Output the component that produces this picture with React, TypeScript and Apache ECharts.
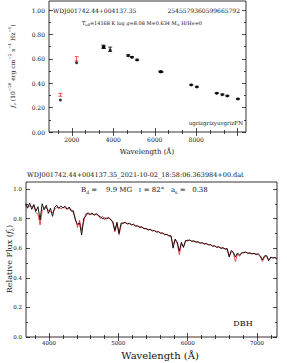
import React, { useEffect, useRef } from "react";
import * as echarts from "echarts";

// ---------- SED panel data ----------
const sedWave = [1450, 2230, 3520, 3545, 3850, 4720, 4900, 5150, 6270, 6320, 7760, 8030, 8990, 9260, 9500, 10010];
const sedObsFlux = [0.305, 0.6, 0.7, 0.695, 0.678, 0.628, 0.614, 0.592, 0.496, 0.492, 0.387, 0.371, 0.319, 0.308, 0.297, 0.272];
const sedObsErr = [0.012, 0.018, 0.012, 0.01, 0.018, 0.006, 0.005, 0.005, 0.004, 0.004, 0.004, 0.004, 0.004, 0.004, 0.004, 0.004];
const sedModelFlux = [0.262, 0.568, 0.697, 0.697, 0.672, 0.625, 0.612, 0.59, 0.494, 0.494, 0.385, 0.369, 0.317, 0.306, 0.295, 0.27];
const sedExcluded = [true, true, false, false, false, false, false, false, false, false, false, false, false, false, false, false];

const topXMajor = [2000, 4000, 6000, 8000, 10000];
const topXLabels = [2000, 4000, 6000, 8000];
const topXMinor = [1333.3, 2666.7, 3333.3, 4666.7, 5333.3, 6666.7, 7333.3, 8666.7, 9333.3];
const topYMajor = [0, 0.2, 0.4, 0.6, 0.8, 1.0];
const topYMinor = [0.1, 0.3, 0.5, 0.7, 0.9];

// ---------- Spectrum panel data ----------
const specWave = [
  3660, 3690, 3720, 3750, 3780, 3810, 3840, 3870, 3900, 3930,
  3960, 3990, 4020, 4050, 4080, 4110, 4140, 4170, 4200, 4230,
  4260, 4290, 4320, 4350, 4380, 4410, 4440, 4470, 4500, 4530,
  4560, 4590, 4620, 4650, 4680, 4710, 4740, 4770, 4800, 4830,
  4860, 4890, 4920, 4950, 4980, 5010, 5040, 5070, 5100, 5130,
  5160, 5190, 5220, 5250, 5280, 5310, 5340, 5370, 5400, 5430,
  5460, 5490, 5520, 5550, 5580, 5610, 5640, 5670, 5700, 5730,
  5760, 5790, 5820, 5850, 5880, 5910, 5940, 5970, 6000, 6030,
  6060, 6090, 6120, 6150, 6180, 6210, 6240, 6270, 6300, 6330,
  6360, 6390, 6420, 6450, 6480, 6510, 6540, 6570, 6600, 6630,
  6660, 6690, 6720, 6750, 6780, 6810, 6840, 6870, 6900, 6930,
  6960, 6990, 7020, 7050, 7080, 7110, 7140, 7170, 7200, 7230,
  7260, 7290,
];
const specModel = [
  0.885, 0.885, 0.884, 0.883, 0.882, 0.84, 0.83, 0.757, 0.85, 0.874,
  0.872, 0.855, 0.845, 0.84, 0.86, 0.875, 0.875, 0.865, 0.875, 0.872,
  0.869, 0.866, 0.862, 0.84, 0.8, 0.74, 0.79, 0.72, 0.78, 0.833,
  0.832, 0.83, 0.829, 0.828, 0.826, 0.825, 0.8, 0.816, 0.79, 0.806,
  0.801, 0.797, 0.77, 0.71, 0.765, 0.69, 0.755, 0.774, 0.77, 0.767,
  0.764, 0.761, 0.757, 0.753, 0.748, 0.744, 0.74, 0.735, 0.73, 0.727,
  0.724, 0.721, 0.717, 0.713, 0.709, 0.704, 0.7, 0.695, 0.69, 0.686,
  0.681, 0.625, 0.655, 0.63, 0.555, 0.63, 0.61, 0.645, 0.655, 0.652,
  0.649, 0.646, 0.643, 0.64, 0.637, 0.634, 0.631, 0.628, 0.625, 0.621,
  0.617, 0.613, 0.609, 0.606, 0.603, 0.6, 0.597, 0.594, 0.55, 0.575,
  0.565, 0.51, 0.56, 0.545, 0.565, 0.573, 0.571, 0.568, 0.565, 0.564,
  0.562, 0.561, 0.558, 0.54, 0.51, 0.54, 0.546, 0.52, 0.535, 0.537,
  0.534, 0.531,
];
const specObs = [
  0.9, 0.87, 0.905, 0.862, 0.895, 0.85, 0.88, 0.79, 0.9, 0.86,
  0.89, 0.835, 0.87, 0.815, 0.875, 0.89, 0.868, 0.885, 0.872, 0.884,
  0.862, 0.878, 0.85, 0.852, 0.79, 0.76, 0.77, 0.69, 0.8, 0.818,
  0.84, 0.826, 0.838, 0.822, 0.834, 0.82, 0.812, 0.8, 0.805, 0.798,
  0.808, 0.792, 0.78, 0.72, 0.775, 0.7, 0.77, 0.768, 0.776, 0.762,
  0.77, 0.756, 0.762, 0.748, 0.752, 0.74, 0.745, 0.73, 0.734, 0.722,
  0.728, 0.716, 0.72, 0.708, 0.712, 0.7, 0.703, 0.69, 0.694, 0.682,
  0.684, 0.6, 0.662, 0.64, 0.58, 0.64, 0.605, 0.652, 0.65, 0.656,
  0.645, 0.65, 0.64, 0.644, 0.633, 0.638, 0.627, 0.632, 0.622, 0.625,
  0.612, 0.617, 0.605, 0.61, 0.598, 0.604, 0.593, 0.598, 0.54, 0.585,
  0.572, 0.54, 0.568, 0.552, 0.57, 0.569, 0.575, 0.564, 0.569, 0.56,
  0.566, 0.557, 0.562, 0.548, 0.52, 0.548, 0.55, 0.515, 0.54, 0.533,
  0.538, 0.526,
];

const botXMajor = [4000, 5000, 6000, 7000];
const botXMinor = [3800, 4200, 4400, 4600, 4800, 5200, 5400, 5600, 5800, 6200, 6400, 6600, 6800, 7200];
const botYMajor = [0, 0.2, 0.4, 0.6, 0.8, 1.0];
const botYMinor = [0.1, 0.3, 0.5, 0.7, 0.9];

const FONT = "DejaVu Serif";
const INK = "#111";

function tickAxis(
  gridIndex: number,
  position: string,
  min: number,
  max: number,
  values: number[],
  len: number,
  labels?: { values: number[]; digits: number; size: number; margin: number }
) {
  return {
    type: "value",
    gridIndex,
    position,
    min,
    max,
    axisLine: { show: false },
    splitLine: { show: false },
    axisTick: {
      show: true,
      inside: true,
      length: len,
      customValues: values,
      lineStyle: { color: "#000", width: 0.7 },
    },
    axisLabel: labels
      ? {
          show: true,
          customValues: labels.values,
          formatter: (v: number) => v.toFixed(labels.digits),
          fontSize: labels.size,
          fontFamily: FONT,
          color: INK,
          margin: labels.margin,
        }
      : { show: false },
  };
}

export default function App() {
  const ref = useRef<HTMLDivElement>(null);
  useEffect(() => {
    if (!ref.current) return;
    const chart = echarts.init(ref.current, null, { renderer: "svg" });

    const topX = { min: 900, max: 10400 };
    const topY = { min: 0, max: 1.074 };
    const botX = { min: 3667, max: 7290 };
    const botY = { min: 0, max: 1.047 };

    const option: any = {
      animation: false,
      backgroundColor: "#fff",
      grid: [
        { left: 49, top: 1, width: 197, height: 131, show: true, borderColor: "#000", borderWidth: 0.8, backgroundColor: "transparent" },
        { left: 26, top: 182, width: 251, height: 155, show: true, borderColor: "#000", borderWidth: 0.8, backgroundColor: "transparent" },
      ],
      xAxis: [
        tickAxis(0, "bottom", topX.min, topX.max, topXMajor, 4, { values: topXLabels, digits: 0, size: 6, margin: 4 }),
        tickAxis(0, "bottom", topX.min, topX.max, topXMinor, 2),
        tickAxis(0, "top", topX.min, topX.max, topXMajor, 4),
        tickAxis(0, "top", topX.min, topX.max, topXMinor, 2),
        tickAxis(1, "bottom", botX.min, botX.max, botXMajor, 4, { values: botXMajor, digits: 0, size: 5.5, margin: 3 }),
        tickAxis(1, "bottom", botX.min, botX.max, botXMinor, 2),
        tickAxis(1, "top", botX.min, botX.max, botXMajor, 4),
        tickAxis(1, "top", botX.min, botX.max, botXMinor, 2),
      ],
      yAxis: [
        tickAxis(0, "left", topY.min, topY.max, topYMajor, 4, { values: topYMajor, digits: 2, size: 6, margin: 4 }),
        tickAxis(0, "left", topY.min, topY.max, topYMinor, 2),
        tickAxis(0, "right", topY.min, topY.max, topYMajor, 4),
        tickAxis(0, "right", topY.min, topY.max, topYMinor, 2),
        tickAxis(1, "left", botY.min, botY.max, botYMajor, 4, { values: botYMajor, digits: 1, size: 5.5, margin: 4 }),
        tickAxis(1, "left", botY.min, botY.max, botYMinor, 2),
        tickAxis(1, "right", botY.min, botY.max, botYMajor, 4),
        tickAxis(1, "right", botY.min, botY.max, botYMinor, 2),
      ],
      series: [
        {
          type: "custom",
          xAxisIndex: 0,
          yAxisIndex: 0,
          data: sedWave.map((w, i) => [w, sedObsFlux[i] - sedObsErr[i], sedObsFlux[i] + sedObsErr[i], i]),
          renderItem: (params: any, api: any) => {
            const x = api.value(0);
            const lo = api.coord([x, api.value(1)]);
            const hi = api.coord([x, api.value(2)]);
            const idx = api.value(3);
            const color = sedExcluded[idx] ? "#e8282c" : "#000";
            const cap = 2;
            const st = { stroke: color, lineWidth: 0.8 };
            return {
              type: "group",
              children: [
                { type: "line", shape: { x1: lo[0], y1: lo[1], x2: hi[0], y2: hi[1] }, style: st },
                { type: "line", shape: { x1: lo[0] - cap, y1: lo[1], x2: lo[0] + cap, y2: lo[1] }, style: st },
                { type: "line", shape: { x1: hi[0] - cap, y1: hi[1], x2: hi[0] + cap, y2: hi[1] }, style: st },
              ],
            };
          },
          z: 3,
        },
        {
          type: "scatter",
          xAxisIndex: 0,
          yAxisIndex: 0,
          symbol: "circle",
          symbolSize: 3,
          itemStyle: { color: "#000" },
          data: sedWave.map((w, i) => [w, sedModelFlux[i]]),
          z: 4,
        },
        {
          type: "line",
          xAxisIndex: 4,
          yAxisIndex: 4,
          showSymbol: false,
          lineStyle: { color: "#e8282c", width: 0.8 },
          data: specWave.map((w, i) => [w, specModel[i]]),
          z: 2,
        },
        {
          type: "line",
          xAxisIndex: 4,
          yAxisIndex: 4,
          showSymbol: false,
          lineStyle: { color: "#000", width: 0.9 },
          data: specWave.map((w, i) => [w, specObs[i]]),
          z: 3,
        },
      ],
      graphic: [
        { type: "text", x: 53, y: 10, style: { text: "WDJ001742.44+004137.35", fontSize: 6, fontFamily: FONT, fill: INK, align: "left", verticalAlign: "middle" } },
        { type: "text", x: 240, y: 10, style: { text: "2545579360599665792", fontSize: 6, fontFamily: FONT, fill: INK, align: "right", verticalAlign: "middle" } },
        {
          type: "text",
          x: 82,
          y: 23,
          style: {
            text: "T{sub|eff}=14168 K log {i|g}=8.08 M=0.634 M{sub|⊙} H/He=0",
            fontSize: 5,
            fontFamily: FONT,
            fill: INK,
            align: "left",
            verticalAlign: "middle",
            rich: {
              sub: { fontSize: 3.5, fontFamily: FONT, verticalAlign: "bottom", lineHeight: 8 },
              i: { fontSize: 5, fontFamily: FONT, fontStyle: "italic" },
            },
          },
        },
        { type: "text", x: 243, y: 123, style: { text: "ugrizgrizyuvgrizFN", fontSize: 5.5, fontFamily: FONT, fill: INK, align: "right", verticalAlign: "middle" } },
        { type: "text", x: 147, y: 152, style: { text: "Wavelength (Å)", fontSize: 7, fontFamily: FONT, fill: INK, align: "center", verticalAlign: "middle" } },
        {
          type: "text",
          x: 12,
          y: 66,
          rotation: Math.PI / 2,
          style: {
            text: "{i|f}{sub|ν} (10{sup|−26} erg cm{sup|−2} s{sup|−1} Hz{sup|−1})",
            fontSize: 6,
            fontFamily: FONT,
            fill: INK,
            align: "center",
            verticalAlign: "middle",
            rich: {
              sup: { fontSize: 4, fontFamily: FONT, verticalAlign: "top", lineHeight: 9 },
              sub: { fontSize: 4, fontFamily: FONT, verticalAlign: "bottom", lineHeight: 9 },
              i: { fontSize: 6, fontFamily: FONT, fontStyle: "italic", lineHeight: 9 },
            },
          },
        },
        { type: "text", x: 27, y: 175, style: { text: "WDJ001742.44+004137.35_2021-10-02_18:58:06.363984+00.dat", fontSize: 6.5, fontFamily: FONT, fill: INK, align: "left", verticalAlign: "middle" } },
        {
          type: "text",
          x: 81,
          y: 190,
          style: {
            text: "B{sub|d} =    9.9 MG   {i|ι} = 82°   a{sub|s} =   0.38",
            fontSize: 7,
            fontFamily: FONT,
            fill: INK,
            align: "left",
            verticalAlign: "middle",
            rich: {
              sub: { fontSize: 4.5, fontFamily: FONT, verticalAlign: "bottom", lineHeight: 10 },
              i: { fontSize: 7, fontFamily: FONT, fontStyle: "italic", lineHeight: 10 },
            },
          },
        },
        { type: "text", x: 243, y: 323, style: { text: "DBH", fontSize: 8, fontFamily: FONT, fill: INK, align: "center", verticalAlign: "middle" } },
        { type: "text", x: 160, y: 355, style: { text: "Wavelength (Å)", fontSize: 10, fontFamily: FONT, fill: INK, align: "center", verticalAlign: "middle" } },
        {
          type: "text",
          x: 9,
          y: 259,
          rotation: Math.PI / 2,
          style: {
            text: "Relative Flux ({i|f}{sub|λ})",
            fontSize: 8,
            fontFamily: FONT,
            fill: INK,
            align: "center",
            verticalAlign: "middle",
            rich: {
              sub: { fontSize: 5, fontFamily: FONT, verticalAlign: "bottom", lineHeight: 11 },
              i: { fontSize: 8, fontFamily: FONT, fontStyle: "italic", lineHeight: 11 },
            },
          },
        },
      ],
    };
    chart.setOption(option);
    return () => chart.dispose();
  }, []);
  return <div ref={ref} style={{ position: "absolute", left: 0, top: 0, width: 287, height: 363 }} />;
}
